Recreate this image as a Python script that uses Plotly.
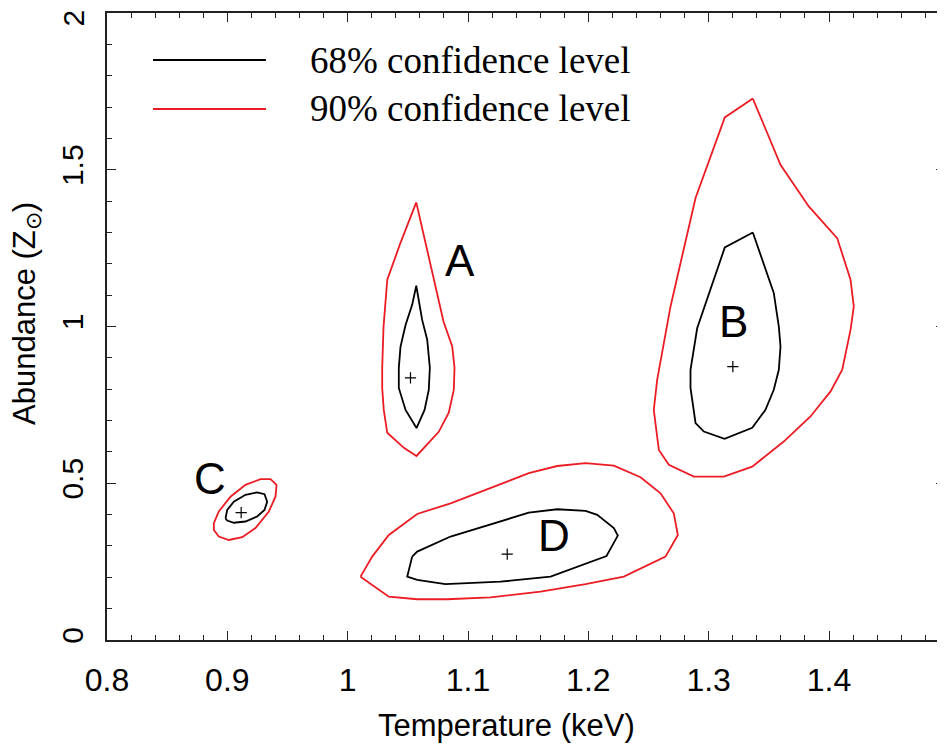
import plotly.graph_objects as go

# ---- data (Temperature keV, Abundance Zsun) ----
A68_T = [1.057, 1.0619, 1.0661, 1.0683, 1.0674, 1.0639, 1.0572, 1.0481, 1.0425, 1.0425, 1.0439, 1.0481, 1.0536, 1.057]
A68_Z = [1.130, 1.021, 0.958, 0.868, 0.798, 0.734, 0.676, 0.734, 0.804, 0.868, 0.935, 1.005, 1.069, 1.130]
A90_T = [1.057, 1.0672, 1.0755, 1.0797, 1.0869, 1.0888, 1.0882, 1.0840, 1.0757, 1.0674, 1.0572, 1.0467, 1.0329, 1.0300, 1.0287, 1.0287, 1.0298, 1.0329, 1.0439, 1.057]
A90_Z = [1.396, 1.229, 1.085, 1.015, 0.936, 0.868, 0.798, 0.725, 0.664, 0.629, 0.587, 0.613, 0.661, 0.734, 0.804, 0.868, 0.999, 1.149, 1.267, 1.396]

B68_T = [1.3367, 1.3541, 1.3583, 1.3597, 1.3583, 1.3541, 1.3472, 1.3362, 1.3132, 1.2960, 1.2891, 1.2849, 1.2849, 1.2905, 1.3134, 1.3367]
B68_Z = [1.300, 1.107, 1.000, 0.936, 0.862, 0.798, 0.734, 0.677, 0.642, 0.665, 0.692, 0.804, 0.862, 0.995, 1.252, 1.300]
B90_T = [1.3367, 1.3597, 1.3832, 1.4068, 1.4179, 1.4206, 1.4179, 1.4110, 1.4013, 1.3846, 1.3624, 1.3362, 1.3126, 1.2877, 1.2669, 1.2586, 1.2544, 1.2572, 1.2683, 1.2891, 1.3134, 1.3367]
B90_Z = [1.727, 1.516, 1.383, 1.282, 1.149, 1.064, 0.989, 0.862, 0.793, 0.713, 0.633, 0.553, 0.521, 0.521, 0.559, 0.606, 0.734, 0.830, 1.064, 1.410, 1.667, 1.727]

C68_T = [0.8985, 0.8999, 0.9054, 0.9151, 0.9248, 0.9309, 0.9331, 0.9309, 0.9248, 0.9151, 0.9054, 0.8999, 0.8985]
C68_Z = [0.388, 0.415, 0.441, 0.463, 0.471, 0.465, 0.441, 0.415, 0.394, 0.378, 0.374, 0.381, 0.388]
C90_T = [0.8888, 0.8929, 0.9026, 0.9151, 0.9276, 0.9359, 0.9409, 0.9400, 0.9345, 0.9234, 0.9124, 0.9012, 0.8929, 0.8888, 0.8888]
C90_Z = [0.373, 0.410, 0.457, 0.495, 0.513, 0.513, 0.495, 0.457, 0.410, 0.357, 0.328, 0.319, 0.330, 0.351, 0.373]

D68_T = [1.0536, 1.0578, 1.0855, 1.1298, 1.1505, 1.1741, 1.1977, 1.2074, 1.2212, 1.2245, 1.2151, 1.1686, 1.1270, 1.0813, 1.0578, 1.0495, 1.0536]
D68_Z = [0.266, 0.282, 0.330, 0.383, 0.406, 0.417, 0.412, 0.399, 0.357, 0.333, 0.268, 0.202, 0.186, 0.178, 0.192, 0.202, 0.266]
D90_T = [1.0107, 1.0204, 1.0342, 1.0578, 1.0855, 1.1104, 1.1298, 1.1505, 1.1741, 1.1977, 1.2212, 1.2434, 1.2600, 1.2710, 1.2744, 1.2641, 1.2295, 1.1977, 1.1603, 1.1187, 1.0827, 1.0578, 1.0342, 1.0107]
D90_Z = [0.202, 0.266, 0.335, 0.402, 0.436, 0.473, 0.503, 0.532, 0.555, 0.564, 0.556, 0.519, 0.468, 0.404, 0.335, 0.266, 0.202, 0.178, 0.154, 0.136, 0.130, 0.130, 0.138, 0.202]

BEST_T = [1.0522, 1.3201, 0.9115, 1.1326]
BEST_Z = [0.836, 0.872, 0.406, 0.274]
REGION_NAMES = ["A", "B", "C", "D"]
LABEL_T = [1.0934, 1.3209, 0.8852, 1.1711]
LABEL_Z = [1.211, 1.016, 0.514, 0.334]

X_TICKS = [0.8, 0.9, 1.0, 1.1, 1.2, 1.3, 1.4]
X_TICKTEXT = ["0.8", "0.9", "1", "1.1", "1.2", "1.3", "1.4"]
Y_TICKS = [0, 0.5, 1, 1.5]
Y_TICKTEXT = ["0", "0.5", "1", "1.5"]
Y_TOP_TICK = 2
Y_TOP_TEXT = "2"

RED = "#ec1c24"
SANS = "Liberation Sans, Arial, sans-serif"
SERIF = "Liberation Serif, Times New Roman, serif"

fig = go.Figure()
contours = [
    (A90_T, A90_Z, RED, "90% A"), (A68_T, A68_Z, "black", "68% A"),
    (B90_T, B90_Z, RED, "90% B"), (B68_T, B68_Z, "black", "68% B"),
    (C90_T, C90_Z, RED, "90% C"), (C68_T, C68_Z, "black", "68% C"),
    (D90_T, D90_Z, RED, "90% D"), (D68_T, D68_Z, "black", "68% D"),
]
for t, z, c, n in contours:
    fig.add_trace(go.Scatter(x=t, y=z, mode="lines", name=n, showlegend=False,
                             line=dict(color=c, width=1.8)))

fig.add_trace(go.Scatter(x=BEST_T, y=BEST_Z, mode="markers", showlegend=False,
                         marker=dict(symbol="cross-thin", size=8, color="black",
                                     line=dict(color="black", width=1.2))))

for name, t, z in zip(REGION_NAMES, LABEL_T, LABEL_Z):
    fig.add_annotation(x=t, y=z, text=name, showarrow=False, xanchor="center", yanchor="middle",
                       font=dict(family=SANS, size=44, color="black"))

# legend (drawn manually)
fig.add_shape(type="line", xref="paper", yref="paper", x0=0.0549, x1=0.1897,
              y0=0.925, y1=0.925, line=dict(color="black", width=2))
fig.add_shape(type="line", xref="paper", yref="paper", x0=0.0549, x1=0.1897,
              y0=0.8469, y1=0.8469, line=dict(color=RED, width=2))
fig.add_annotation(xref="paper", yref="paper", x=0.2399, y=0.925, xanchor="left",
                   yanchor="middle", text="68% confidence level", showarrow=False,
                   font=dict(family=SERIF, size=37, color="black"))
fig.add_annotation(xref="paper", yref="paper", x=0.2399, y=0.8469, xanchor="left",
                   yanchor="middle", text="90% confidence level", showarrow=False,
                   font=dict(family=SERIF, size=37, color="black"))

# top y tick label (kept inside the page)
fig.add_annotation(xref="paper", yref="y", x=-0.0394, y=Y_TOP_TICK, textangle=-90,
                   xanchor="center", yanchor="top", yshift=6, text=Y_TOP_TEXT, showarrow=False,
                   font=dict(family=SANS, size=30, color="black"))

# axis titles
fig.add_annotation(xref="paper", yref="paper", x=0.4773, y=-0.1356,
                   xanchor="center", yanchor="middle",
                   text="Temperature (keV)", showarrow=False,
                   font=dict(family=SANS, size=31, color="black"))
fig.add_annotation(xref="paper", yref="paper", x=-0.0955, y=0.5215, textangle=-90,
                   xanchor="center", yanchor="middle",
                   text="Abundance (Z<sub>⊙</sub>)", showarrow=False,
                   font=dict(family=SANS, size=31, color="black"))

fig.update_layout(
    width=945, height=749,
    margin=dict(l=99, r=8, t=5, b=117),
    paper_bgcolor="white", plot_bgcolor="white",
    xaxis=dict(range=[0.8, 1.4964], tickmode="array", tickvals=X_TICKS, ticktext=X_TICKTEXT,
               ticks="inside", ticklen=9, tickwidth=1.3, tickcolor="#222",
               showline=True, linecolor="#222", linewidth=1.6, mirror="ticks",
               showgrid=False, zeroline=False, ticklabelstandoff=11,
               ticklabeloverflow="allow", automargin=False,
               tickfont=dict(family=SANS, size=32, color="black"),
               minor=dict(dtick=0.02, ticks="inside", ticklen=5, tickwidth=1, tickcolor="#222",
                          showgrid=False)),
    yaxis=dict(range=[0, 2], tickmode="array", tickvals=Y_TICKS, ticktext=Y_TICKTEXT,
               tickangle=-90,
               ticks="inside", ticklen=9, tickwidth=1.3, tickcolor="#222",
               showline=True, linecolor="#222", linewidth=1.6, mirror="ticks",
               showgrid=False, zeroline=False, ticklabelstandoff=10,
               ticklabeloverflow="allow", automargin=False,
               tickfont=dict(family=SANS, size=30, color="black"),
               minor=dict(dtick=0.1, ticks="inside", ticklen=5, tickwidth=1, tickcolor="#222",
                          showgrid=False)),
)

fig.write_html("out.html")
